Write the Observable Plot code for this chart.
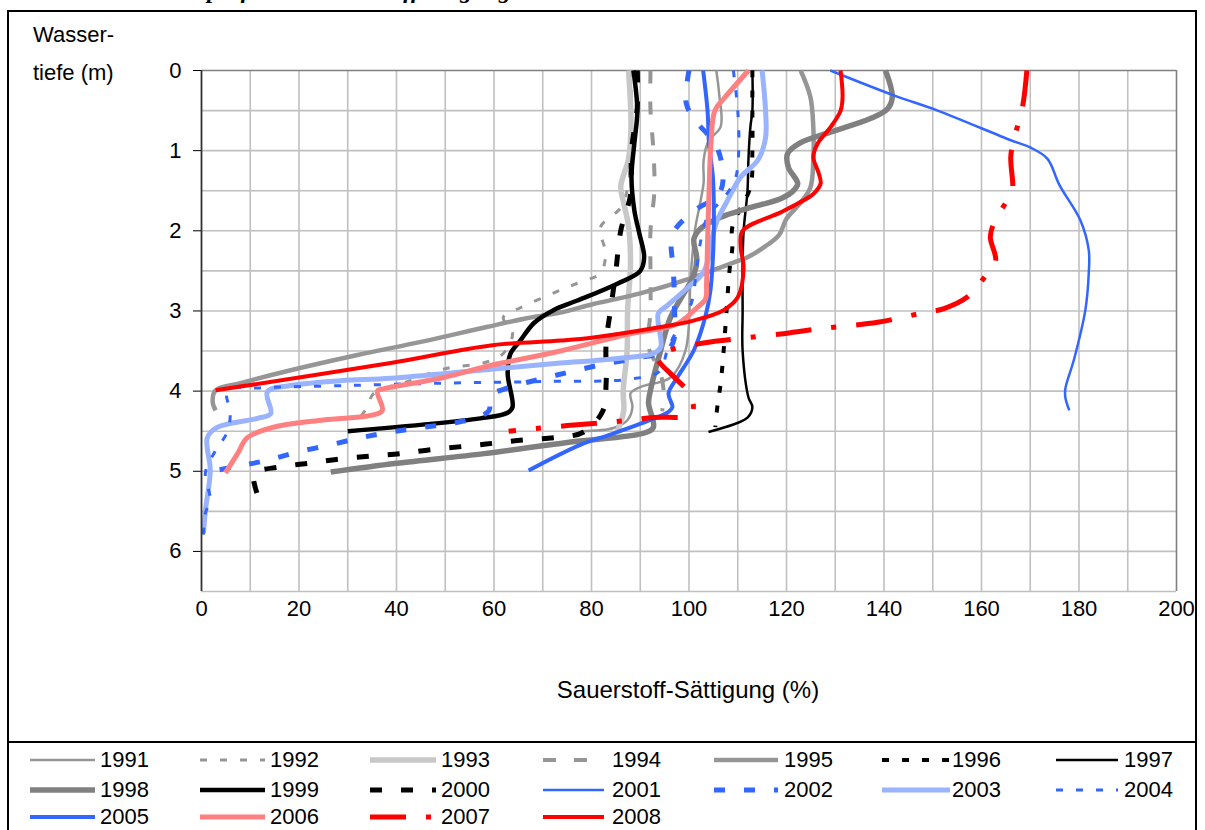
<!DOCTYPE html>
<html>
<head>
<meta charset="utf-8">
<script src="https://cdn.jsdelivr.net/npm/d3@7"></script>
<script src="https://cdn.jsdelivr.net/npm/@observablehq/plot@0.6"></script>
<style>
  html, body { margin: 0; padding: 0; background: #fff; }
  #wrap { position: relative; width: 1205px; height: 830px; overflow: hidden; font-family: "Liberation Sans", Arial, sans-serif; }
  #title { position: absolute; left: 130px; top: -22px; font-family: "Liberation Serif", "Times New Roman", serif; font-weight: bold; font-style: italic; font-size: 24px; line-height: 24px; white-space: nowrap; color: #000; }
  #frame { position: absolute; left: 7px; top: 10px; width: 1190px; height: 840px; border: 2px solid #000; box-sizing: border-box; }
  #sep { position: absolute; left: 7px; top: 741px; width: 1190px; height: 0; border-top: 2px solid #000; }
  #chart { position: absolute; left: 0; top: 0; }
  .lbl { position: absolute; font-size: 22px; line-height: 22px; color: #000; white-space: nowrap; }
  #legend { position: absolute; left: 0; top: 0; width: 1205px; height: 830px; pointer-events: none; }
  .lg-text { position: absolute; font-size: 22px; line-height: 22px; color: #000; }
  .lg-sw { position: absolute; }
</style>
</head>
<body>
<div id="wrap">
  <div id="title">Vertikalprofile der Sauerstoffsättigung</div>
  <div id="chart"></div>
  <div id="frame"></div>
  <div id="sep"></div>
  <div class="lbl" style="left:33px; top:24px;">Wasser-</div>
  <div class="lbl" style="left:33px; top:62px;">tiefe (m)</div>
  <div class="lbl" id="xtitle" style="left:550px; top:678px; font-size:24px; line-height:24px;">Sauerstoff-Sättigung (%)</div>
  <div id="legend"></div>
</div>
<script>
// ---- Data: [Sauerstoff-Sättigung (%), Wassertiefe (m)] ----
const years = ["1991","1992","1993","1994","1995","1996","1997","1998","1999","2000","2001","2002","2003","2004","2005","2006","2007","2008"];
const xTicks = [0,20,40,60,80,100,120,140,160,180,200];
const yTicks = [0,1,2,3,4,5,6];

const p1991 = [[105.6,0],[106.2,0.3],[106.5,0.7],[104,0.88],[103,1.12],[103,1.4],[102.4,1.62],[101.3,1.96],[100.7,2.3],[100.3,2.6],[99.3,3.49],[96.2,3.83],[90,3.95],[88,4.03],[88.4,4.2],[87.4,4.36],[84.5,4.46],[78,4.5]];
const p1992 = [[88,0],[88.2,0.5],[88,1.0],[87.6,1.4],[86,1.71],[81.8,1.96],[82.9,2.28],[81.8,2.53],[77.7,2.64],[73.6,2.74],[65.4,2.96],[61.9,3.08],[63.8,3.28],[61.9,3.53],[58.3,3.64],[50,3.72],[41.8,3.89],[35.3,4.03],[34,4.2],[31.2,4.43]];
const p1993 = [[87.6,0],[88.1,0.7],[87.6,1.1],[86.0,1.45],[86.6,1.65],[87.6,1.95],[88.0,2.4],[87.4,3.0],[87.3,3.5],[86.5,4.0],[86.6,4.25],[85.3,4.5]];
const p1994 = [[92.1,0],[92.1,0.5],[92.7,1.0],[92.9,1.5],[92.1,2.0],[92.1,2.5],[92.1,3.0],[91.7,3.45],[94,3.75],[94.8,4.0],[94.5,4.25]];
const p1995 = [[122.9,0],[124.9,0.33],[125.5,0.71],[125.5,1.12],[124.9,1.46],[122.9,1.65],[120,1.85],[118.5,2.05],[115.5,2.2],[112,2.33],[109,2.4],[100,2.6],[90,2.78],[80,2.92],[73.6,3.02],[66,3.1],[58.5,3.2],[45.5,3.38],[32,3.55],[18.3,3.74],[8,3.9],[2.9,3.99],[2.3,4.14],[2.9,4.24]];
const p1996 = [[113,0],[113,0.5],[113,1.0],[112.6,1.45],[108.9,1.95],[108.9,2.2],[108.3,2.5],[107.7,3.0],[107.1,3.5],[106.5,3.9],[105.8,4.2],[105.4,4.45]];
const p1997 = [[113,0],[113,0.5],[112.6,0.7],[112.2,1.1],[112,1.5],[111.2,2.0],[111,2.4],[111,3.0],[111,3.5],[112.2,4.08],[113,4.2],[112,4.33],[104,4.51]];
const p1998 = [[140.3,0],[141.7,0.33],[140.7,0.48],[137.2,0.6],[129,0.77],[122.9,0.9],[120.2,1.04],[120.4,1.21],[122.3,1.41],[121.4,1.5],[118.8,1.6],[112,1.72],[106.5,1.83],[102.4,1.97],[101,2.1],[101.6,2.35],[101,2.55],[96.2,3.08],[94.2,3.49],[92.1,3.99],[91.7,4.15],[92.7,4.45],[91,4.52],[75,4.64],[58,4.78],[40,4.9],[26.5,5.01]];
const p1999 = [[88.6,0],[89.4,0.5],[88.8,0.9],[88.2,1.33],[88.8,1.75],[89.8,2.03],[90.8,2.33],[90,2.5],[85.3,2.66],[77.1,2.87],[72.2,2.99],[68.2,3.15],[65.4,3.37],[63.4,3.53],[62.8,3.78],[63.8,4.2],[62.8,4.27],[57.2,4.34],[30,4.5]];
const p2000 = [[89.4,0],[89.4,0.45],[88.2,1.0],[88,1.55],[86,2.0],[85,2.5],[84,2.95],[83,3.4],[83,3.9],[82.3,4.25],[78.4,4.51],[72.6,4.58],[66,4.61],[59.9,4.65],[53.7,4.69],[47,4.73],[40.8,4.78],[34.7,4.81],[28.1,4.85],[21.9,4.9],[15.6,4.95],[11.5,5.0],[10.7,5.05],[11.5,5.3],[12.5,5.45]];
const p2001 = [[129,0],[142,0.31],[151,0.5],[166,0.87],[170,0.96],[173.5,1.1],[176,1.43],[180.3,1.87],[182,2.24],[182,2.53],[181.3,2.99],[179,3.6],[177.2,3.97],[177.2,4.08],[178,4.24]];
const p2002 = [[100,0],[99.4,0.4],[101,0.6],[105.9,0.98],[106.5,1.5],[100.4,1.78],[96.6,2.05],[96.8,2.5],[97,2.9],[96.2,3.45],[88,3.6],[82,3.67],[75.6,3.76],[69.5,3.85],[62.8,3.96],[59.3,4.06],[58.9,4.25],[52.5,4.39],[45.7,4.45],[38.9,4.51],[32.8,4.58],[26.5,4.67],[19.7,4.76],[13.7,4.86],[8,4.93],[2,5.0]];
const p2003 = [[115,0],[115.7,0.5],[115.7,0.84],[114.1,1.12],[110.6,1.33],[107.9,1.62],[105.8,1.87],[104.8,2.08],[104.2,2.3],[102.8,2.53],[99.7,2.71],[95.6,2.93],[93.7,3.03],[94.2,3.45],[92.7,3.53],[87.4,3.58],[80.4,3.62],[73.6,3.65],[57.2,3.74],[38.8,3.84],[28.5,3.87],[18.3,3.93],[13.5,4.01],[14.2,4.28],[11.5,4.34],[3.3,4.45],[1.2,4.58],[1.8,4.99],[0.8,5.49],[0.4,5.77]];
const p2004 = [[109.1,0],[110,0.5],[110.2,1.0],[109.5,1.35],[107,1.6],[104,1.8],[102.5,2.1],[101.5,2.5],[100.5,2.9],[97,3.3],[95.5,3.5],[94,3.75],[88,3.85],[70,3.88],[50,3.9],[30,3.93],[12,3.96],[5.3,3.99],[5.9,4.28],[5.3,4.51],[2.9,4.74],[0.8,5.02],[1.8,5.36],[0.8,5.52],[0.4,5.8]];
const p2005 = [[102.9,0],[103.8,0.5],[104.1,0.91],[104.9,1.33],[105.1,1.75],[105,2.2],[104.4,2.74],[103.4,3.06],[101,3.49],[97.6,3.83],[95.8,4.03],[96.6,4.2],[95.8,4.26],[92.1,4.36],[84,4.54],[77.7,4.67],[67.1,4.99]];
const p2006 = [[112.2,0],[107.3,0.34],[105.3,0.5],[104.5,0.91],[104.1,1.53],[103.8,2.16],[103.6,2.65],[103.4,2.85],[101.6,2.96],[97.6,3.16],[87.4,3.29],[73.6,3.5],[59.3,3.68],[49.6,3.83],[37.5,3.97],[36.1,4.0],[37.1,4.24],[35,4.3],[25,4.36],[14.8,4.45],[9.4,4.58],[7.4,4.78],[4.9,5.02]];
const p2007 = [[169.3,0],[168.4,0.46],[166.6,0.87],[166,1.08],[166.4,1.46],[166,1.54],[162.5,1.91],[161.8,2.08],[162.9,2.37],[161.2,2.53],[157,2.83],[152.3,2.97],[147.5,3.03],[138.7,3.14],[127,3.22],[119.8,3.28],[111,3.34],[103,3.4],[96,3.49],[93.5,3.58],[97.2,3.84],[99.9,4.01],[100.9,4.2],[100.2,4.3],[92.7,4.33],[85,4.38],[75,4.43],[63,4.5]];
const p2008 = [[131.1,0],[131.5,0.33],[131.1,0.5],[129,0.71],[126.4,0.91],[125.5,1.08],[126.6,1.28],[127,1.41],[125.5,1.54],[122.3,1.66],[118.8,1.77],[111,2.0],[110.6,2.2],[111.2,2.46],[110,2.83],[107.1,2.99],[100.9,3.12],[94.2,3.2],[80.4,3.33],[73.6,3.37],[59.3,3.43],[38.8,3.65],[2.9,3.99]];

const seriesData = [p1991,p1992,p1993,p1994,p1995,p1996,p1997,p1998,p1999,p2000,p2001,p2002,p2003,p2004,p2005,p2006,p2007,p2008];

// ---- Styles ----
const styles = {
  "1991": {stroke:"#969696", w:2.5, dash:null},
  "1992": {stroke:"#969696", w:3, dash:"7,13"},
  "1993": {stroke:"#c8c8c8", w:5.5, dash:null},
  "1994": {stroke:"#969696", w:4, dash:"13,18"},
  "1995": {stroke:"#969696", w:4.5, dash:null},
  "1996": {stroke:"#000000", w:4, dash:"7,13"},
  "1997": {stroke:"#000000", w:2.5, dash:null},
  "1998": {stroke:"#808080", w:5.5, dash:null},
  "1999": {stroke:"#000000", w:4.5, dash:null},
  "2000": {stroke:"#000000", w:5, dash:"12,19"},
  "2001": {stroke:"#3366ff", w:2.5, dash:null},
  "2002": {stroke:"#3366ff", w:5, dash:"11,19"},
  "2003": {stroke:"#99b3ff", w:5, dash:null},
  "2004": {stroke:"#3366ff", w:3, dash:"7,13"},
  "2005": {stroke:"#3366ff", w:4, dash:null},
  "2006": {stroke:"#ff8080", w:5, dash:null},
  "2007": {stroke:"#ff0000", w:5, dash:"36,20,5,20"},
  "2008": {stroke:"#ff0000", w:4, dash:null}
};

const lineMarks = years.map((yr, i) => {
  const s = styles[yr];
  const opts = {
    x: d => d[0], y: d => d[1],
    stroke: s.stroke, strokeWidth: s.w,
    curve: "catmull-rom", strokeLinejoin: "round", strokeLinecap: "butt"
  };
  if (s.dash) opts.strokeDasharray = s.dash;
  return Plot.line(seriesData[i], opts);
});

const chart = Plot.plot({
  width: 1205,
  height: 742,
  marginTop: 70, marginLeft: 201, marginRight: 29, marginBottom: 151,
  x: {domain: [0, 200]},
  y: {domain: [0, 6.5], reverse: true},
  style: {fontFamily: "'Liberation Sans', Arial, sans-serif", fontSize: "22px", background: "transparent", color: "#000"},
  marks: [
    Plot.gridX(d3.range(10, 200, 10), {stroke: "#c0c0c0", strokeOpacity: 1, strokeWidth: 1.6}),
    Plot.gridY(d3.range(0.5, 6.6, 0.5), {stroke: "#c0c0c0", strokeOpacity: 1, strokeWidth: 1.6}),
    Plot.ruleY([0], {stroke: "#808080", strokeWidth: 1.6}),
    Plot.ruleX([200], {stroke: "#808080", strokeWidth: 1.6}),
    Plot.axisY(yTicks, {tickSize: 8, tickPadding: 12, label: null, fontSize: 22, stroke: "#000", tickFormat: d => String(d)}),
    Plot.axisX(xTicks, {anchor: "bottom", tickSize: 0, tickPadding: 9, label: null, fontSize: 22, tickFormat: d => String(d)}),
    ...lineMarks,
    Plot.ruleX([0], {stroke: "#333", strokeWidth: 1.8})
  ]
});
document.getElementById("chart").appendChild(chart);

// center x title under plot area
(function(){
  const t = document.getElementById("xtitle");
  const w = t.getBoundingClientRect().width;
  t.style.left = (688 - w / 2) + "px";
})();

// ---- Legend ----
const legSwatch = [[30,95],[200,265],[370,436],[543,604],[714,778],[882,950],[1056,1118]];
const legText = [100, 270, 441, 612, 784, 952, 1124];
const legRows = [760, 790, 817];
const legend = document.getElementById("legend");
years.forEach((yr, i) => {
  const col = i % 7, row = Math.floor(i / 7);
  const s = styles[yr];
  const [x0, x1] = legSwatch[col];
  const cy = legRows[row];
  const svgNS = "http://www.w3.org/2000/svg";
  const sv = document.createElementNS(svgNS, "svg");
  sv.setAttribute("width", x1 - x0);
  sv.setAttribute("height", 12);
  sv.setAttribute("class", "lg-sw");
  sv.style.left = x0 + "px";
  sv.style.top = (cy - 6) + "px";
  const ln = document.createElementNS(svgNS, "line");
  ln.setAttribute("x1", 0); ln.setAttribute("x2", x1 - x0);
  ln.setAttribute("y1", 6); ln.setAttribute("y2", 6);
  ln.setAttribute("stroke", s.stroke);
  ln.setAttribute("stroke-width", s.w);
  if (s.dash) ln.setAttribute("stroke-dasharray", s.dash);
  sv.appendChild(ln);
  legend.appendChild(sv);
  const tx = document.createElement("div");
  tx.className = "lg-text";
  tx.textContent = yr;
  tx.style.left = legText[col] + "px";
  tx.style.top = (cy - 11) + "px";
  legend.appendChild(tx);
});
</script>
</body>
</html>
